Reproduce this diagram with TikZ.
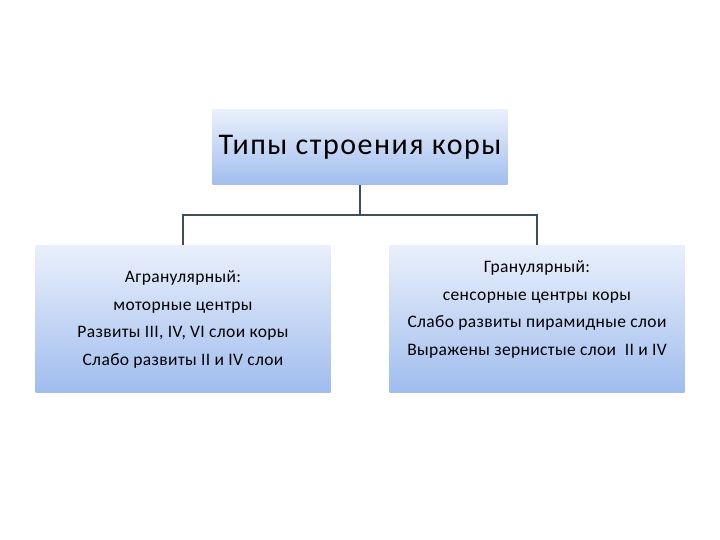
\documentclass[tikz,border=0pt]{standalone}
\usepackage{fontspec}
\setmainfont{Carlito}
\definecolor{boxtop}{HTML}{EAF0FB}
\definecolor{boxbottom}{HTML}{A0BDEE}
\definecolor{linkgray}{HTML}{3E4F60}

\begin{document}
\begin{tikzpicture}[x=1pt, y=-1pt]
        \useasboundingbox (0,0) rectangle (720,540);
        \tikzset{
          typebox/.style={rectangle, top color=boxtop, bottom color=boxbottom, inner sep=0pt},
          typetext/.style={align=center, font=\fontsize{17.5}{27.5}\selectfont\addfontfeature{LetterSpace=2}},
          link/.style={linkgray, line width=1.8pt}
        }
        \node[typebox, minimum width=295pt, minimum height=75pt, font=\fontsize{30}{32}\selectfont\addfontfeature{LetterSpace=5}] (types) at (360, 147.5) {Типы строения коры};
        \node[typebox, minimum width=295pt, minimum height=147pt] (agran) at (183, 318.5) {};
        \node[typebox, minimum width=295pt, minimum height=147pt] (gran) at (537, 318.5) {};
        \node[typetext] (agrantext) at (183, 319.5) {Агранулярный:\\моторные центры\\Развиты III, IV, VI слои коры\\Слабо развиты II и IV слои};
        \node[typetext] (grantext) at (537, 309.5) {Гранулярный:\\сенсорные центры коры\\Слабо развиты пирамидные слои\\Выражены зернистые слои\ \ II и IV};
        \coordinate (fork) at (360, 215);
        \draw[link] (types.south) -- (fork);
        \draw[link] (agran.north) |- (fork) -| (gran.north);
      \end{tikzpicture}
\end{document}
